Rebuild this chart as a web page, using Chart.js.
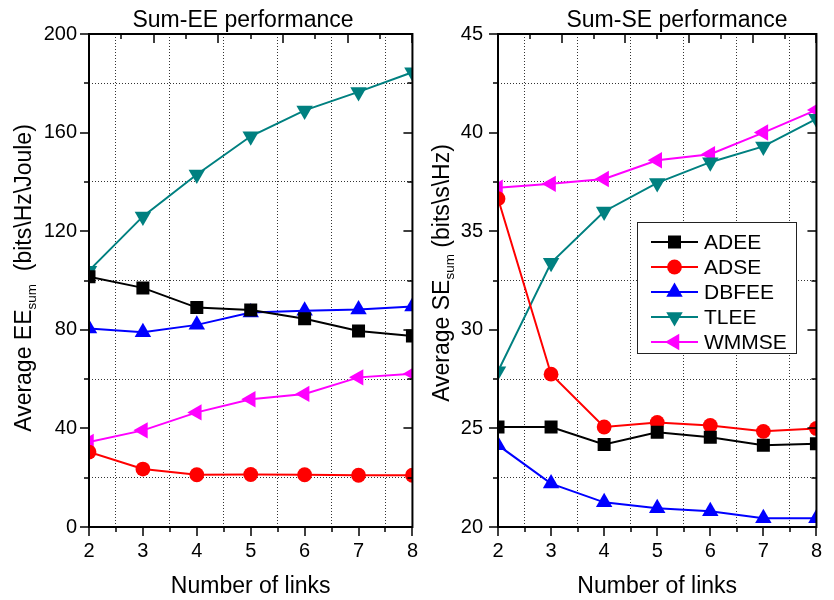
<!DOCTYPE html>
<html>
<head>
<meta charset="utf-8">
<script src="https://cdn.jsdelivr.net/npm/chart.js@4.4.1/dist/chart.umd.min.js"></script>
<style>
    body { margin: 0; background: #fff; width: 834px; height: 600px; position: relative; overflow: hidden; }
    #eeWrap { position: absolute; left: 0; top: 0; width: 430px; height: 600px; }
    #seWrap { position: absolute; left: 425px; top: 0; width: 409px; height: 600px; }
</style>
</head>
<body>
<div id="eeWrap"><canvas id="eeChart" width="430" height="600"></canvas></div>
<div id="seWrap"><canvas id="seChart" width="409" height="600"></canvas></div>
<script>
// x values (number of links)
const links = [2, 3, 4, 5, 6, 7, 8];

const seriesNames = ['ADEE', 'ADSE', 'DBFEE', 'TLEE', 'WMMSE'];
const seriesColors = ['#000000', '#ff0000', '#0000ff', '#008080', '#ff00ff'];
const seriesPointStyles = ['rect', 'circle', 'triangle', 'triangle', 'triangle'];
const seriesRotations = [0, 0, 0, 180, 270];
const seriesRadii = [9.2, 7.4, 9.5, 9.5, 9.5];

// Sum-EE (bits\Hz\Joule)
const eeADEE = [101.5, 97, 89, 88, 84.5, 79.5, 77.5];
const eeADSE = [30.4, 23.5, 21.2, 21.3, 21.2, 21, 21];
const eeDBFEE = [80.5, 79, 82, 87, 87.7, 88.2, 89.5];
const eeTLEE = [104, 126, 143, 158.5, 169, 176.5, 184.5];
const eeWMMSE = [34.5, 39.2, 46.5, 51.8, 54, 60.7, 62.2];

// Sum-SE (bits\s\Hz)
const seADEE = [25.07, 25.07, 24.18, 24.8, 24.55, 24.15, 24.22];
const seADSE = [36.65, 27.75, 25.07, 25.3, 25.15, 24.85, 25.0];
const seDBFEE = [24.15, 22.2, 21.25, 20.95, 20.8, 20.45, 20.45];
const seTLEE = [27.9, 33.4, 36.0, 37.45, 38.5, 39.3, 40.7];
const seWMMSE = [37.2, 37.4, 37.65, 38.6, 38.9, 40.0, 41.15];

const eeSeries = [eeADEE, eeADSE, eeDBFEE, eeTLEE, eeWMMSE];
const seSeries = [seADEE, seADSE, seDBFEE, seTLEE, seWMMSE];

const FONT = 'Liberation Sans, Arial, sans-serif';

function buildDatasets(series) {
    return series.map((vals, i) => ({
        label: seriesNames[i],
        data: vals.map((v, k) => ({ x: links[k], y: v })),
        borderColor: seriesColors[i],
        backgroundColor: seriesColors[i],
        borderWidth: 2,
        pointStyle: seriesPointStyles[i],
        pointRotation: seriesRotations[i],
        pointRadius: seriesRadii[i],
        pointBorderWidth: 0,
        tension: 0,
        clip: 0
    }));
}

function drawMarker(ctx, style, rot, r, x, y) {
    ctx.save();
    ctx.translate(x, y);
    ctx.rotate(rot * Math.PI / 180);
    ctx.beginPath();
    if (style === 'rect') {
        const s = r * Math.SQRT1_2;
        ctx.rect(-s, -s, 2 * s, 2 * s);
    } else if (style === 'circle') {
        ctx.arc(0, 0, r, 0, Math.PI * 2);
    } else {
        for (let k = 0; k < 3; k++) {
            const a = k * 2 * Math.PI / 3;
            const px = Math.sin(a) * r, py = -Math.cos(a) * r;
            if (k === 0) ctx.moveTo(px, py); else ctx.lineTo(px, py);
        }
        ctx.closePath();
    }
    ctx.fill();
    ctx.restore();
}

// frame, tick marks, title and rotated y title with subscript
function decorPlugin(cfg) {
    return {
        id: 'decor',
        afterDatasetsDraw(chart) {
            const ctx = chart.ctx;
            const a = chart.chartArea;
            const xs = chart.scales.x, ys = chart.scales.y;
            ctx.save();
            ctx.strokeStyle = '#000';
            ctx.lineWidth = 2;
            ctx.strokeRect(a.left, a.top, a.right - a.left, a.bottom - a.top);
            ctx.lineWidth = 1.5;
            ctx.beginPath();
            // bottom ticks (outward)
            for (let v = 2; v <= 8.001; v += 0.5) {
                const px = Math.round(xs.getPixelForValue(v));
                const len = Number.isInteger(v) ? 9 : 5;
                ctx.moveTo(px, a.bottom); ctx.lineTo(px, a.bottom + len);
            }
            // top ticks (inward)
            for (let k = 0; k <= 10; k++) {
                const px = Math.round(xs.getPixelForValue(2 + k * 0.6));
                const len = k % 2 === 0 ? 9 : 5;
                ctx.moveTo(px, a.top); ctx.lineTo(px, a.top + len);
            }
            // left (outward) and right (inward) ticks
            for (let v = cfg.yMin; v <= cfg.yMax + 1e-6; v += cfg.yMinor) {
                const py = Math.round(ys.getPixelForValue(v));
                const major = Math.abs((v - cfg.yMin) / cfg.yMajor - Math.round((v - cfg.yMin) / cfg.yMajor)) < 1e-6;
                const len = major ? 9 : 5;
                ctx.moveTo(a.left, py); ctx.lineTo(a.left - len, py);
                ctx.moveTo(a.right, py); ctx.lineTo(a.right - len, py);
            }
            ctx.stroke();
            ctx.restore();
        },
        afterDraw(chart) {
            const ctx = chart.ctx;
            ctx.save();
            ctx.fillStyle = '#000';
            // chart title
            ctx.font = '23px ' + FONT;
            ctx.textAlign = 'center';
            ctx.textBaseline = 'alphabetic';
            ctx.fillText(cfg.title, cfg.titleX, 27);
            // y title
            ctx.textAlign = 'left';
            const big = '23px ' + FONT, small = '13.5px ' + FONT;
            ctx.font = big;
            const w1 = ctx.measureText(cfg.yPre).width;
            const w3 = ctx.measureText(cfg.yPost).width;
            ctx.font = small;
            const w2 = ctx.measureText('sum').width;
            const total = w1 + w2 + w3;
            ctx.translate(cfg.yTitleX, cfg.yTitleY);
            ctx.rotate(-Math.PI / 2);
            let x0 = -total / 2;
            ctx.font = big;
            ctx.fillText(cfg.yPre, x0, 0);
            ctx.font = small;
            ctx.fillText('sum', x0 + w1, 5);
            ctx.font = big;
            ctx.fillText(cfg.yPost, x0 + w1 + w2, 0);
            ctx.restore();

            if (cfg.legend) {
                const L = cfg.legend;
                ctx.save();
                ctx.fillStyle = '#fff';
                ctx.fillRect(L.x, L.y, L.w, L.h);
                ctx.strokeStyle = '#222';
                ctx.lineWidth = 1;
                ctx.strokeRect(L.x + 0.5, L.y + 0.5, L.w, L.h);
                ctx.font = '21px ' + FONT;
                ctx.textBaseline = 'middle';
                ctx.textAlign = 'left';
                seriesNames.forEach((name, i) => {
                    const cy = L.y + 20 + i * 25;
                    ctx.strokeStyle = seriesColors[i];
                    ctx.fillStyle = seriesColors[i];
                    ctx.lineWidth = 2;
                    ctx.beginPath();
                    ctx.moveTo(L.x + 14, cy); ctx.lineTo(L.x + 61, cy);
                    ctx.stroke();
                    drawMarker(ctx, seriesPointStyles[i], seriesRotations[i], seriesRadii[i], L.x + 37.5, cy);
                    ctx.fillStyle = '#000';
                    ctx.fillText(name, L.x + 67, cy + 1);
                });
                ctx.restore();
            }
        }
    };
}

function makeChart(canvasId, series, cfg) {
    const ctx = document.getElementById(canvasId).getContext('2d');
    return new Chart(ctx, {
        type: 'line',
        data: { datasets: buildDatasets(series) },
        options: {
            responsive: false,
            animation: false,
            devicePixelRatio: 1,
            layout: { autoPadding: false, padding: { left: 0, right: cfg.padRight, top: 34, bottom: 0 } },
            plugins: { legend: { display: false }, title: { display: false }, tooltip: { enabled: false } },
            scales: {
                x: {
                    type: 'linear',
                    min: 2,
                    max: 8,
                    afterFit: s => { s.height = 73; },
                    ticks: {
                        stepSize: 0.5,
                        autoSkip: false,
                        maxRotation: 0,
                        padding: 12,
                        color: '#000',
                        font: { size: 20, family: FONT },
                        callback: v => Number.isInteger(v) ? String(v) : ''
                    },
                    grid: {
                        drawTicks: false,
                        lineWidth: 1,
                        color: c => (c.tick && !Number.isInteger(c.tick.value)) ? '#333' : 'rgba(0,0,0,0)'
                    },
                    border: { display: false, dash: [1, 2] },
                    title: {
                        display: true,
                        text: 'Number of links',
                        color: '#000',
                        font: { size: 23, family: FONT },
                        padding: { top: 0, bottom: 0 }
                    }
                },
                y: {
                    min: cfg.yMin,
                    max: cfg.yMax,
                    afterFit: s => { s.width = cfg.yWidth; },
                    ticks: {
                        stepSize: cfg.yMinor,
                        autoSkip: false,
                        padding: cfg.yPad,
                        color: '#000',
                        font: { size: 20, family: FONT },
                        callback: v => (Math.abs(((v - cfg.yMin) / cfg.yMajor) % 1) < 1e-6) ? String(v) : ''
                    },
                    grid: {
                        drawTicks: false,
                        lineWidth: 1,
                        color: c => (c.tick && Math.abs(((c.tick.value - cfg.yMin) / cfg.yMajor) % 1) > 1e-6) ? '#333' : 'rgba(0,0,0,0)'
                    },
                    border: { display: false, dash: [1, 2] }
                }
            }
        },
        plugins: [decorPlugin(cfg)]
    });
}

makeChart('eeChart', eeSeries, {
    yMin: 0, yMax: 200, yMajor: 40, yMinor: 20,
    yWidth: 89, yPad: 12, padRight: 12,
    title: 'Sum-EE performance', titleX: 243,
    yPre: 'Average EE', yPost: '  (bits\\Hz\\Joule)',
    yTitleX: 31, yTitleY: 278
});

makeChart('seChart', seSeries, {
    yMin: 20, yMax: 45, yMajor: 5, yMinor: 2.5,
    yWidth: 73, yPad: 15, padRight: 7,
    title: 'Sum-SE performance', titleX: 252,
    yPre: 'Average SE', yPost: ' (bits\\s\\Hz)',
    yTitleX: 23.5, yTitleY: 273,
    legend: { x: 212, y: 222, w: 159, h: 131 }
});
</script>
</body>
</html>
